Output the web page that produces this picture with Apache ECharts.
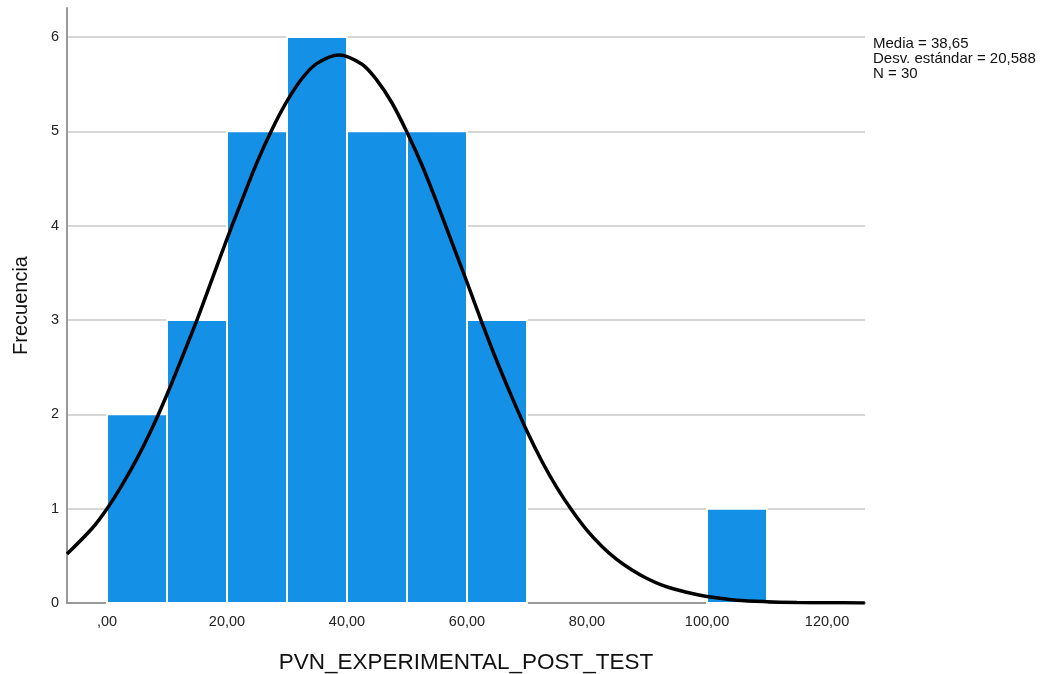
<!DOCTYPE html>
<html>
<head>
<meta charset="utf-8">
<script src="https://cdn.jsdelivr.net/npm/echarts@6/dist/echarts.min.js"></script>
<style>
  html, body { margin: 0; padding: 0; background: #fff; }
  #chart { width: 1043px; height: 674px; }
</style>
</head>
<body>
<div id="chart"></div>
<script>
// intervalos del histograma [desde, hasta, frecuencia]
const binStart = [0, 10, 20, 30, 40, 50, 60, 100]
const binEnd = [10, 20, 30, 40, 50, 60, 70, 110]
const frecuencia = [2, 3, 5, 6, 5, 5, 3, 1]

// curva normal
const curvaX = [-6.67, -2.5, 0, 2.5, 5, 7.5, 10, 12.5, 15, 17.5, 20, 22.5, 25, 27.5, 30, 32.5, 35, 38.65, 42.5, 45, 47.5, 50, 52.5, 55, 57.5, 60, 62.5, 65, 67.5, 70, 72.5, 75, 77.5, 80, 82.5, 85, 87.5, 90, 92.5, 95, 97.5, 100, 105, 110, 115, 120, 126.3]
const curvaY = [0.52, 0.79, 1.0, 1.25, 1.53, 1.85, 2.21, 2.6, 3.0, 3.43, 3.86, 4.27, 4.67, 5.02, 5.32, 5.56, 5.72, 5.81, 5.71, 5.54, 5.3, 4.99, 4.64, 4.24, 3.82, 3.4, 2.97, 2.56, 2.18, 1.82, 1.5, 1.22, 0.98, 0.77, 0.6, 0.46, 0.35, 0.26, 0.19, 0.14, 0.1, 0.07, 0.03, 0.014, 0.006, 0.002, 0.001]

const xTicks = [0, 20, 40, 60, 80, 100, 120]
const yTicks = [0, 1, 2, 3, 4, 5, 6]
const stats = ['Media = 38,65', 'Desv. estándar = 20,588', 'N = 30']

const chart = echarts.init(document.getElementById('chart'))

const option = {
  animation: false,
  textStyle: { fontFamily: 'Liberation Sans, Arial, sans-serif' },
  grid: { left: 67, right: 178, top: 8, bottom: 71, outerBoundsMode: 'none', containLabel: false },
  xAxis: {
    type: 'value',
    min: -6.667,
    max: 126.33,
    name: 'PVN_EXPERIMENTAL_POST_TEST',
    nameLocation: 'middle',
    nameGap: 48,
    nameTextStyle: { fontSize: 22.5, color: '#111' },
    axisLine: { show: true, onZero: false, lineStyle: { color: '#999', width: 2 } },
    axisTick: { show: false },
    splitLine: { show: false },
    axisLabel: {
      customValues: xTicks,
      margin: 11,
      fontSize: 14.5,
      color: '#222',
      formatter: v => (v === 0 ? ',00' : v + ',00')
    }
  },
  yAxis: {
    type: 'value',
    min: 0,
    max: 6.307,
    interval: 1,
    name: 'Frecuencia',
    nameLocation: 'middle',
    nameGap: 36,
    nameTextStyle: { fontSize: 20, color: '#111' },
    axisLine: { show: true, onZero: false, lineStyle: { color: '#999', width: 2 } },
    axisTick: { show: false },
    splitLine: {
      show: true,
      showMinLine: false,
      showMaxLine: false,
      lineStyle: { color: '#c8c8c8', width: 1.5 }
    },
    axisLabel: {
      customValues: yTicks,
      margin: 8,
      fontSize: 14.5,
      color: '#222'
    }
  },
  series: [
    {
      type: 'custom',
      data: binStart.map((s, i) => [s, binEnd[i], frecuencia[i]]),
      renderItem: function (params, api) {
        const p0 = api.coord([api.value(0), 0])
        const p1 = api.coord([api.value(1), api.value(2)])
        return {
          type: 'rect',
          shape: { x: p0[0], y: p1[1], width: p1[0] - p0[0], height: p0[1] - p1[1] },
          style: { fill: '#1490e6', stroke: '#fff', lineWidth: 2 }
        }
      },
      z: 2
    },
    {
      type: 'line',
      data: curvaX.map((x, i) => [x, curvaY[i]]),
      smooth: 0.3,
      symbol: 'none',
      lineStyle: { color: '#000', width: 3.5 },
      z: 3
    }
  ],
  graphic: [
    {
      type: 'text',
      left: 873,
      top: 36,
      style: {
        text: stats.join('\n'),
        font: '15px Liberation Sans, Arial, sans-serif',
        lineHeight: 15,
        fill: '#111'
      }
    }
  ]
}

chart.setOption(option)
</script>
</body>
</html>
